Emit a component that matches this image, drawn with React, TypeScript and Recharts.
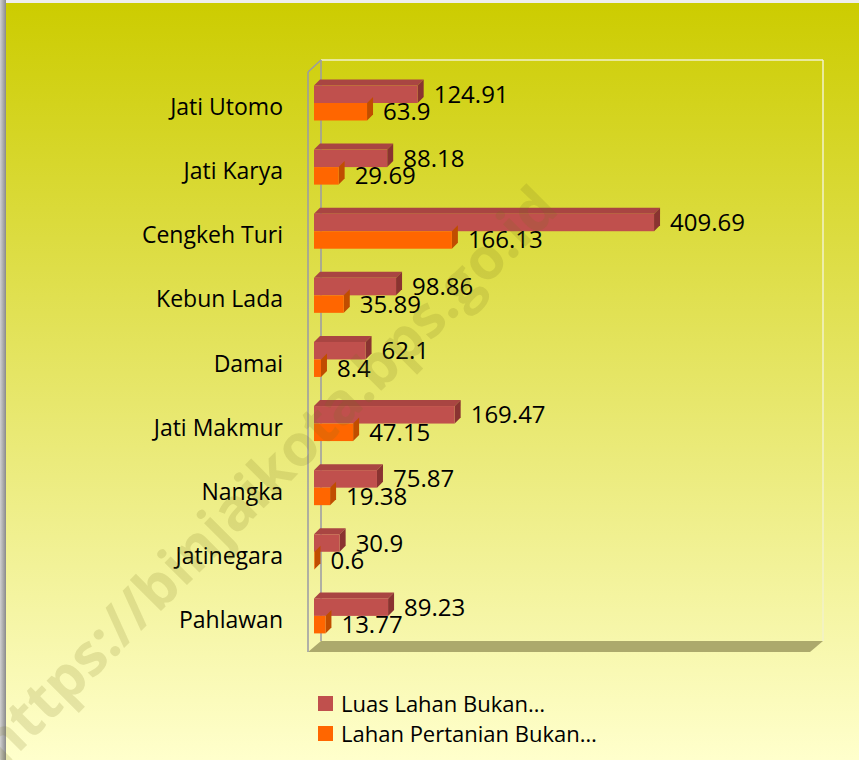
import React from 'react'
import { BarChart, Bar, XAxis, YAxis, Legend, LabelList } from 'recharts'

const categories = ['Jati Utomo', 'Jati Karya', 'Cengkeh Turi', 'Kebun Lada', 'Damai', 'Jati Makmur', 'Nangka', 'Jatinegara', 'Pahlawan']
const luasLahanBukan = [124.91, 88.18, 409.69, 98.86, 62.1, 169.47, 75.87, 30.9, 89.23]
const lahanPertanianBukan = [63.9, 29.69, 166.13, 35.89, 8.4, 47.15, 19.38, 0.6, 13.77]
const seriesNames = ['Luas Lahan Bukan…', 'Lahan Pertanian Bukan…']

const data = categories.map((name, i) => ({ name, luas: luasLahanBukan[i], pertanian: lahanPertanianBukan[i] }))

const W = 859
const H = 760
const FONT = '"Open Sans", sans-serif'
const DEPTH = 6
const LEGEND_H = 60

const makeShape = (front: string, top: string | null, side: string) => (props: any) => {
  const { x, y, width, height } = props
  if (width == null || height == null) return null
  const w = Math.max(width, 0.5)
  return (
    <g>
      {top && (
        <polygon points={`${x},${y} ${x + DEPTH},${y - DEPTH} ${x + w + DEPTH},${y - DEPTH} ${x + w},${y}`} fill={top} />
      )}
      <polygon points={`${x + w},${y} ${x + w + DEPTH},${y - DEPTH} ${x + w + DEPTH},${y + height - DEPTH} ${x + w},${y + height}`} fill={side} />
      <rect x={x} y={y} width={w} height={height} fill={front} />
    </g>
  )
}

const ValueLabel = (props: any) => {
  const { x, y, width, height, value } = props
  return (
    <text x={x + width + 16} y={y + height / 2 + 8.5} fontSize={24} fontFamily={FONT} fill="#000">{value}</text>
  )
}

const CategoryTick = (props: any) => {
  const { x, y, payload } = props
  return (
    <text x={x - 31} y={y + 12.5} textAnchor="end" fontSize={23} fontFamily={FONT} fill="#000">{payload.value}</text>
  )
}

const LegendContent = (props: any) => {
  const items = [...(props.payload || [])].sort((a: any, b: any) => seriesNames.indexOf(a.value) - seriesNames.indexOf(b.value))
  return (
    <div style={{ fontFamily: FONT, fontSize: 22, color: '#000', height: LEGEND_H }}>
      {items.map((p: any) => (
        <div key={p.value} style={{ display: 'flex', alignItems: 'center', height: 30, lineHeight: '30px', whiteSpace: 'nowrap' }}>
          <span style={{ display: 'inline-block', width: 15, height: 15, background: p.color, marginRight: 8 }} />
          <span>{p.value}</span>
        </div>
      ))}
    </div>
  )
}

export default function App() {
  return (
    <div style={{ position: 'absolute', left: 0, top: 0, width: W, height: H, overflow: 'hidden', background: 'linear-gradient(to bottom, #cccc00 0%, #ffffcc 100%)' }}>
      <div style={{ position: 'absolute', left: 0, top: 0, width: 6, height: H, background: 'linear-gradient(to right, #d0d0d0, #8a8a8a)' }} />
      <div style={{ position: 'absolute', left: 6, top: 0, width: W, height: 3, background: '#eeeeee' }} />
      <svg width={W} height={H} style={{ position: 'absolute', left: 0, top: 0 }}>
        <polygon points="308,652 321,641 823,641 810,652" fill="#aca96c" />
        <line x1={321} y1={60} x2={823} y2={60} stroke="#f2f2c8" strokeWidth={1.5} />
        <line x1={823} y1={60} x2={823} y2={641} stroke="#f2f2c8" strokeWidth={1.5} />
        <line x1={321} y1={60} x2={321} y2={641} stroke="#9a9aa6" strokeWidth={1.5} />
        <line x1={308} y1={72} x2={321} y2={60} stroke="#9a9aa6" strokeWidth={1.5} />
        <line x1={308} y1={72} x2={308} y2={652} stroke="#9a9aa6" strokeWidth={1.5} />
      </svg>
      <div style={{ position: 'absolute', left: 0, top: 0 }}>
        <BarChart width={W} height={H} data={data} layout="vertical" barSize={17.5} barGap={0}
          margin={{ top: 70.5, right: 47, bottom: 112.5 - LEGEND_H, left: 0 }}>
          <XAxis type="number" domain={[0, 600]} hide />
          <YAxis type="category" dataKey="name" width={314} axisLine={false} tickLine={false} tickSize={0} tickMargin={0}
            tick={<CategoryTick />} interval={0} />
          <Bar dataKey="luas" name={seriesNames[0]} fill="#c0504d" isAnimationActive={false}
            shape={makeShape('#c0504d', '#a94542', '#8a3331')}>
            <LabelList dataKey="luas" content={<ValueLabel />} />
          </Bar>
          <Bar dataKey="pertanian" name={seriesNames[1]} fill="#ff6600" isAnimationActive={false}
            shape={makeShape('#ff6600', null, '#c04d00')}>
            <LabelList dataKey="pertanian" content={<ValueLabel />} />
          </Bar>
          <Legend layout="vertical" align="center" verticalAlign="bottom" content={<LegendContent />}
            wrapperStyle={{ position: 'absolute', left: 318, top: 688, width: 420, bottom: 'auto' }} />
        </BarChart>
      </div>
      <svg width={W} height={H} style={{ position: 'absolute', left: 0, top: 0, pointerEvents: 'none' }}>
        <text x={282} y={490} transform="rotate(-45 282 490)" textAnchor="middle" fontSize={58} fontWeight="bold"
          fontFamily={FONT} fill="rgba(120,112,30,0.17)">https://binjaikota.bps.go.id</text>
      </svg>
    </div>
  )
}
